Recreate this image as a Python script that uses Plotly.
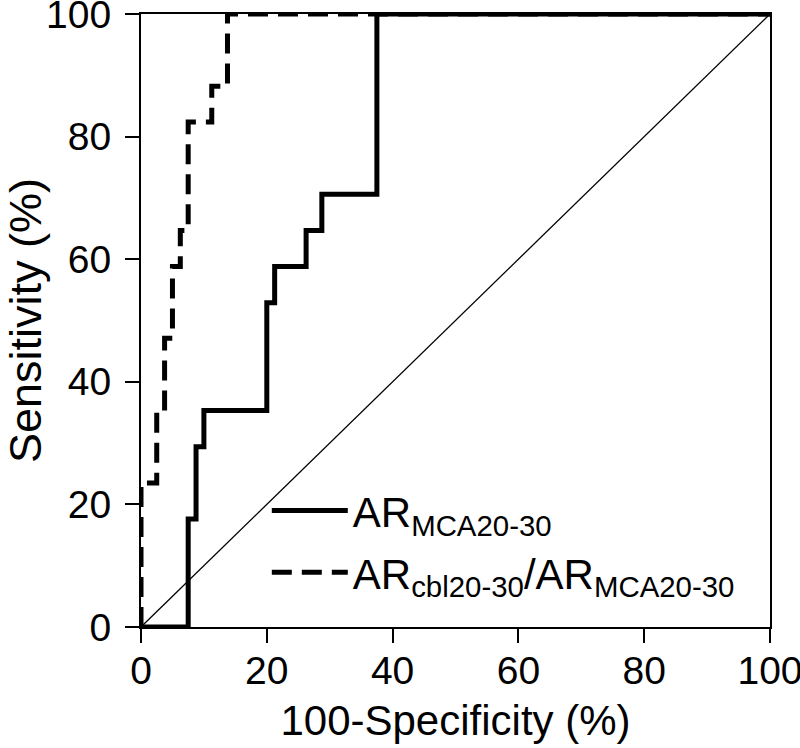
import plotly.graph_objects as go

# ROC corner points (100-specificity %, sensitivity %), drawn as steps
fpr_mca = [0, 7.5, 8.75, 10, 20, 21.25, 26.25, 28.75, 37.5, 100]
tpr_mca = [0, 17.6, 29.4, 35.3, 52.9, 58.8, 64.7, 70.6, 100, 100]

fpr_ratio = [0, 0, 2.5, 3.75, 5, 6.25, 7.5, 11.25, 13.75, 100]
tpr_ratio = [0, 23.5, 35.3, 47.1, 58.8, 64.7, 82.4, 88.2, 100, 100]

ref_line = [0, 100]

tick_vals = [0, 20, 40, 60, 80, 100]

FONT = "Liberation Sans, Arial, sans-serif"

fig = go.Figure()
fig.add_trace(
    go.Scatter(
        x=ref_line, y=ref_line,
        mode="lines",
        line=dict(color="black", width=1.3),
        showlegend=False,
        cliponaxis=False
    )
)
fig.add_trace(
    go.Scatter(
        x=fpr_mca, y=tpr_mca,
        mode="lines",
        line=dict(color="black", width=5, shape="hv"),
        name="AR<sub>MCA20-30</sub>",
        legendgroup="mca",
        cliponaxis=False
    )
)
fig.add_trace(
    go.Scatter(
        x=fpr_ratio, y=tpr_ratio,
        mode="lines",
        line=dict(color="black", width=5, shape="hv", dash="20px,10px"),
        name="AR<sub>cbl20-30</sub>/AR<sub>MCA20-30</sub>",
        legendgroup="ratio",
        cliponaxis=False
    )
)

axis_common = dict(
    range=[0, 100],
    tickvals=tick_vals,
    ticks="outside",
    ticklen=14,
    tickwidth=2,
    tickcolor="black",
    showline=True,
    linecolor="black",
    linewidth=2,
    mirror=True,
    showgrid=False,
    zeroline=False,
    automargin=False,
    ticklabeloverflow="allow",
    tickfont=dict(family=FONT, size=39, color="black"),
)

fig.update_layout(
    width=800,
    height=748,
    margin=dict(l=141, r=30, t=14, b=121),
    paper_bgcolor="white",
    plot_bgcolor="white",
    font=dict(family=FONT, color="black"),
    xaxis=dict(
        title=dict(text="100-Specificity (%)", font=dict(family=FONT, size=42)),
        ticklabelstandoff=-6,
        **axis_common
    ),
    yaxis=dict(
        title=dict(text="Sensitivity (%)", font=dict(family=FONT, size=45)),
        ticklabelstandoff=6,
        **axis_common
    ),
    legend=dict(
        x=0.2, y=0.245,
        xanchor="left", yanchor="top",
        bgcolor="rgba(0,0,0,0)",
        font=dict(family=FONT, size=42, color="black"),
        itemwidth=76,
        traceorder="grouped",
        tracegroupgap=4
    ),
)

# drop the default 8px body margin so the figure fills the window
fig.write_html(
    "out.html",
    config={"displayModeBar": False},
    post_script="document.body.style.margin = '0';"
)
